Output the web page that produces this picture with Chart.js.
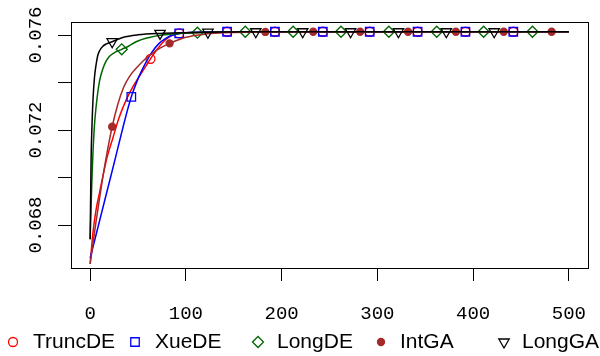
<!DOCTYPE html>
<html>
<head>
<meta charset="utf-8">
<script src="https://cdn.jsdelivr.net/npm/chart.js@4.4.1/dist/chart.umd.min.js"></script>
<style>
  html, body { margin: 0; padding: 0; background: #fff; }
  #wrap { width: 600px; height: 356px; }
</style>
</head>
<body>
<div id="wrap"><canvas id="chart"></canvas></div>
<script>
/**
 * Data
 */
const xTicks = [0, 100, 200, 300, 400, 500];
const yTicks = [0.068, 0.070, 0.072, 0.074, 0.076];
const yLabels = ['0.068', '', '0.072', '', '0.076'];
const seriesNames = ['TruncDE', 'XueDE', 'LongDE', 'IntGA', 'LongGA'];

const truncX = [0, 3, 6, 10, 13, 18, 24, 30, 38, 45, 52, 58, 63, 70, 76, 82, 88, 93, 110, 125, 143, 193, 243, 292, 342, 392, 442, 500];
const truncY = [0.06636, 0.0677, 0.0686, 0.0694, 0.0700, 0.0709, 0.0717, 0.0725, 0.0733, 0.07385, 0.0743, 0.07468, 0.0750, 0.0754, 0.0757, 0.0759, 0.07602, 0.07607,
                0.07611, 0.07613, 0.07614, 0.07614, 0.07614, 0.07614, 0.07614, 0.07614, 0.07614, 0.07614];
const truncMarks = [63, 93, 143, 193, 243, 292, 342, 392, 442];

const xueX = [0, 5, 10, 15, 20, 25, 31, 37, 43, 49, 54, 59, 64, 72, 79, 86, 93, 110, 125, 143, 193, 243, 292, 342, 392, 442, 500];
const xueY = [0.0666, 0.0674, 0.0682, 0.0690, 0.0698, 0.0706, 0.07158, 0.07254, 0.0734, 0.07406, 0.07451, 0.0749, 0.07525, 0.07565, 0.07586, 0.07600, 0.07607, 0.07612, 0.07613,
              0.07614, 0.07614, 0.07614, 0.07614, 0.07614, 0.07614, 0.07614, 0.07614];
const xueMarks = [43, 93, 143, 193, 243, 292, 342, 392, 442];

const longDeX = [0, 1, 2, 3, 4.5, 6, 8, 10, 13, 16, 20, 25, 33, 40, 48, 62, 75, 90, 112, 130, 162, 212, 262, 312, 362, 411, 462, 500];
const longDeY = [0.0674, 0.0688, 0.0701, 0.0711, 0.0722, 0.0729, 0.0736, 0.0741, 0.07455, 0.07485, 0.0751, 0.07525, 0.0754, 0.07553, 0.07572, 0.0759, 0.0760, 0.07606, 0.0761, 0.07612,
                 0.07614, 0.07614, 0.07614, 0.07614, 0.07614, 0.07614, 0.07614, 0.07614];
const longDeMarks = [33, 112, 162, 212, 262, 312, 362, 411, 462];

const intGaX = [0, 6, 12, 17, 23, 29, 35, 41, 48, 55, 63, 73, 83, 99, 120, 150, 183, 233, 282, 332, 382, 432, 482, 500];
const intGaY = [0.06636, 0.0681, 0.0697, 0.0709, 0.07214, 0.0731, 0.0738, 0.07425, 0.0746, 0.0749, 0.07518, 0.07545, 0.07565, 0.0759, 0.07604, 0.07611, 0.07613,
                0.07614, 0.07614, 0.07614, 0.07614, 0.07614, 0.07614, 0.07614];
const intGaMarks = [23, 83, 183, 233, 282, 332, 382, 432, 482];

const longGaX = [0, 1, 2, 3, 4.5, 6, 8, 10, 13, 17, 23, 34, 50, 73, 100, 123, 150, 173, 222, 272, 322, 372, 422, 500];
const longGaY = [0.0674, 0.0708, 0.0723, 0.0733, 0.0742, 0.0747, 0.07515, 0.07535, 0.07552, 0.07563, 0.07572, 0.0759, 0.07601, 0.07607, 0.0761, 0.07612, 0.07613,
                 0.07614, 0.07614, 0.07614, 0.07614, 0.07614, 0.07614, 0.07614];
const longGaMarks = [23, 73, 123, 173, 222, 272, 322, 372, 422];

//////////////////////////////////////////////////////////////////

/**
 * Styles
 */
const MONO = '"Liberation Mono", "DejaVu Sans Mono", monospace';
const SANS = '"Liberation Sans", Arial, sans-serif';
const STYLES = [
    { color: '#ff0000', pointStyle: 'circle',   radius: 4.5, rotation: 0,   filled: false },
    { color: '#0000ff', pointStyle: 'rect',     radius: 6,   rotation: 0,   filled: false },
    { color: '#006400', pointStyle: 'rectRot',  radius: 5.5, rotation: 0,   filled: false },
    { color: '#a52a2a', pointStyle: 'circle',   radius: 3.5, rotation: 0,   filled: true  },
    { color: '#000000', pointStyle: 'triangle', radius: 6,   rotation: 180, filled: false },
];

const seriesX = [truncX, xueX, longDeX, intGaX, longGaX];
const seriesY = [truncY, xueY, longDeY, intGaY, longGaY];
const seriesMarks = [truncMarks, xueMarks, longDeMarks, intGaMarks, longGaMarks];

/**
 * Build datasets
 */
function buildDataset(i) {
    const st = STYLES[i];
    const marks = seriesMarks[i];
    return {
        label: seriesNames[i],
        data: seriesX[i].map((x, k) => ({ x: x, y: seriesY[i][k] })),
        borderColor: st.color,
        borderWidth: 1.5,
        fill: false,
        cubicInterpolationMode: 'monotone',
        pointStyle: st.pointStyle,
        pointRotation: st.rotation,
        pointBorderColor: st.color,
        pointBackgroundColor: st.filled ? st.color : 'rgba(0,0,0,0)',
        pointBorderWidth: 1.3,
        pointRadius: ctx => (ctx.raw && marks.includes(ctx.raw.x)) ? st.radius : 0,
        pointHoverRadius: 0,
        order: seriesNames.length - i,
    };
}

// box around the plot region
const boxPlugin = {
    id: 'box',
    afterDraw(chart) {
        const a = chart.chartArea;
        const ctx = chart.ctx;
        ctx.save();
        ctx.strokeStyle = '#000';
        ctx.lineWidth = 1;
        ctx.strokeRect(Math.round(a.left) + 0.5, Math.round(a.top) + 0.5,
            Math.round(a.right - a.left), Math.round(a.bottom - a.top));
        ctx.restore();
    }
};

// rotated y labels, R style
const yLabelPlugin = {
    id: 'yLabels',
    afterDraw(chart) {
        const ctx = chart.ctx;
        const ys = chart.scales.y;
        ctx.save();
        ctx.font = '19px ' + MONO;
        ctx.fillStyle = '#000';
        ctx.textAlign = 'center';
        ctx.textBaseline = 'middle';
        yTicks.forEach(function (v, i) {
            if (!yLabels[i]) return;
            ctx.save();
            ctx.translate(36, ys.getPixelForValue(v));
            ctx.rotate(-Math.PI / 2);
            ctx.fillText(yLabels[i], 0, 0);
            ctx.restore();
        });
        ctx.restore();
    }
};

// legend row under the plot
const legendPlugin = {
    id: 'rowLegend',
    afterDraw(chart) {
        const ctx = chart.ctx;
        const markX = [13, 135, 258, 381, 504];
        const textX = [33, 155, 277, 400, 522];
        const y = 342;
        ctx.save();
        ctx.font = '21px ' + SANS;
        ctx.textAlign = 'left';
        ctx.textBaseline = 'middle';
        seriesNames.forEach(function (name, i) {
            const st = STYLES[i];
            ctx.strokeStyle = st.color;
            ctx.fillStyle = st.filled ? st.color : 'rgba(0,0,0,0)';
            ctx.lineWidth = 1.3;
            Chart.helpers.drawPoint(ctx, {
                pointStyle: st.pointStyle,
                rotation: st.rotation,
                radius: st.radius,
                borderWidth: 1.3
            }, markX[i], y);
            ctx.fillStyle = '#000';
            ctx.fillText(name, textX[i], y);
        });
        ctx.restore();
    }
};

const tickGrid = {
    display: true,
    drawOnChartArea: false,
    drawTicks: true,
    tickLength: 13,
    color: '#000',
    lineWidth: 1,
};

const config = {
    type: 'line',
    data: { datasets: seriesNames.map((_, i) => buildDataset(i)) },
    options: {
        responsive: true,
        maintainAspectRatio: false,
        animation: false,
        events: [],
        layout: { padding: { left: 0, top: 22, right: 12, bottom: 0 } },
        plugins: {
            legend: { display: false },
            tooltip: { enabled: false },
        },
        scales: {
            x: {
                type: 'linear',
                min: -20,
                max: 520,
                afterBuildTicks: s => { s.ticks = xTicks.map(v => ({ value: v })); },
                afterFit: s => { s.height = 88; s.paddingLeft = 0; s.paddingRight = 0; },
                grid: tickGrid,
                border: { display: false },
                ticks: {
                    font: { family: MONO, size: 19 },
                    color: '#000',
                    padding: 22,
                    maxRotation: 0,
                    autoSkip: false,
                    callback: v => String(v),
                },
            },
            y: {
                type: 'linear',
                min: 0.06619,
                max: 0.07655,
                afterBuildTicks: s => { s.ticks = yTicks.map(v => ({ value: v })); },
                afterFit: s => { s.width = 71; s.paddingTop = 0; s.paddingBottom = 0; },
                grid: tickGrid,
                border: { display: false },
                ticks: { display: false },
            },
        },
    },
    plugins: [boxPlugin, yLabelPlugin, legendPlugin],
};

new Chart(document.getElementById('chart'), config);
</script>
</body>
</html>
